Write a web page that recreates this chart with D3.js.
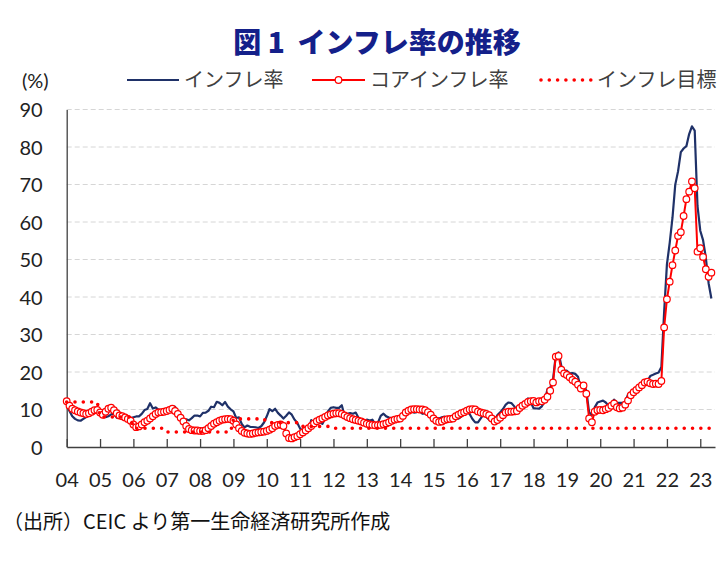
<!DOCTYPE html>
<html>
<head>
<meta charset="utf-8">
<script src="https://cdn.jsdelivr.net/npm/d3@7"></script>
<style>
  body { margin: 0; background: #fff; }
  text { font-family: "Noto Sans CJK JP", sans-serif; }
  .num { font-family: Lato, "Open Sans", sans-serif; }
</style>
</head>
<body>
<div class="canvas"></div>
<script>
// year labels on the x axis (first month of each year)
const yearLabels = ['04','05','06','07','08','09','10','11','12','13',
  '14','15','16','17','18','19','20','21','22','23'];
const yTicks = [0, 10, 20, 30, 40, 50, 60, 70, 80, 90];

// monthly y/y inflation, Jan 2004 - May 2023 (%)
const headline = [
  11.4, 9.6, 8.2, 7.5, 7.1, 7.0, 7.5, 8.0, 8.5, 9.0, 9.3, 9.3,
  9.24, 8.69, 7.94, 8.18, 8.70, 8.95, 7.82, 7.91, 7.99, 7.52, 7.61, 7.72,
  7.93, 8.15, 8.16, 8.83, 9.86, 10.12, 11.69, 10.26, 10.55, 9.98, 9.86, 9.65,
  9.93, 10.16, 10.86, 10.72, 9.23, 8.60, 6.90, 7.39, 7.12, 7.70, 8.40, 8.39,
  8.17, 9.10, 9.15, 9.66, 10.74, 10.61, 12.06, 11.77, 11.13, 11.99, 10.76, 10.06,
  9.50, 7.73, 7.89, 6.13, 5.24, 5.73, 5.39, 5.33, 5.27, 5.08, 5.53, 6.53,
  8.19, 10.13, 9.56, 10.19, 9.10, 8.37, 7.58, 8.33, 9.24, 8.62, 7.29, 6.40,
  4.90, 4.16, 3.99, 4.26, 7.17, 6.24, 6.31, 6.65, 6.15, 7.66, 9.48, 10.45,
  10.61, 10.43, 10.43, 11.14, 8.28, 8.87, 9.07, 8.88, 9.19, 7.80, 6.37, 6.16,
  7.31, 7.03, 7.29, 6.13, 6.51, 8.30, 8.88, 8.17, 7.88, 7.71, 7.32, 7.40,
  7.75, 7.89, 8.39, 9.38, 9.66, 9.16, 9.32, 9.54, 8.86, 8.96, 9.15, 8.17,
  7.24, 7.55, 7.61, 7.91, 8.09, 7.20, 6.81, 7.14, 7.95, 7.58, 8.10, 8.81,
  9.58, 8.78, 7.46, 6.57, 6.58, 7.64, 8.79, 8.05, 7.28, 7.16, 7.00, 8.53,
  9.22, 10.13, 11.29, 11.87, 11.72, 10.90, 9.79, 10.68, 11.20, 11.90, 12.98, 11.92,
  10.35, 10.26, 10.23, 10.85, 12.15, 15.39, 15.85, 17.90, 24.52, 25.24, 21.62, 20.30,
  20.35, 19.67, 19.71, 19.50, 18.71, 15.72, 16.65, 15.01, 9.26, 8.55, 10.56, 11.84,
  12.15, 12.37, 11.86, 10.94, 11.39, 12.62, 11.76, 11.77, 11.75, 11.89, 14.03, 14.60,
  14.97, 15.61, 16.19, 17.14, 16.59, 17.53, 18.95, 19.25, 19.58, 19.89, 21.31, 36.08,
  48.69, 54.44, 61.14, 69.97, 73.50, 78.62, 79.60, 80.21, 83.45, 85.51, 84.39, 64.27,
  57.68, 55.18, 50.51, 43.68, 39.59
];

const core = [
  12.2, 11.0, 10.2, 9.8, 9.5, 9.2, 9.0, 8.8, 9.0, 9.4, 9.8, 9.9,
  9.2, 8.6, 9.4, 10.2, 10.5, 9.8, 9.0, 8.4, 8.2, 7.9, 7.5, 7.0,
  6.0, 5.3, 5.5, 6.0, 6.6, 7.0, 7.6, 8.2, 8.8, 9.2, 9.3, 9.4,
  9.6, 9.9, 10.2, 9.6, 8.8, 7.8, 6.8, 5.6, 4.8, 4.5, 4.4, 4.4,
  4.3, 4.3, 4.5, 5.0, 5.6, 6.2, 6.6, 7.0, 7.3, 7.4, 7.5, 7.4,
  7.0, 6.0, 5.0, 4.3, 3.8, 3.6, 3.5, 3.6, 3.8, 3.9, 4.0, 4.1,
  4.3, 4.6, 5.0, 5.6, 5.9, 6.0, 5.6, 3.6, 2.4, 2.3, 2.6, 2.9,
  3.4, 3.9, 4.4, 5.0, 5.6, 6.3, 6.9, 7.3, 7.6, 8.0, 8.4, 8.7,
  8.9, 9.0, 9.0, 8.8, 8.4, 8.0, 7.7, 7.4, 7.2, 7.0, 6.8, 6.5,
  6.2, 6.0, 5.9, 5.8, 5.8, 5.9, 6.1, 6.3, 6.6, 7.0, 7.3, 7.5,
  7.6, 8.3, 9.2, 9.7, 10.0, 10.1, 10.1, 10.0, 10.0, 9.8, 9.3, 8.6,
  7.6, 7.0, 6.7, 6.8, 7.2, 7.4, 7.5, 7.6, 8.2, 8.6, 9.0, 9.3,
  9.7, 10.0, 10.1, 10.0, 9.5, 9.2, 9.0, 8.8, 8.5, 7.6, 6.8, 7.2,
  7.8, 8.5, 9.2, 9.4, 9.4, 9.5, 9.6, 10.4, 11.0, 11.5, 12.0, 12.2,
  12.3, 11.9, 12.2, 12.2, 12.6, 13.4, 15.0, 17.2, 24.1, 24.3, 20.6, 19.6,
  19.2, 18.6, 17.9, 17.4, 16.6, 15.6, 16.4, 14.2, 7.6, 6.6, 9.4, 9.8,
  9.9, 9.8, 10.1, 10.4, 11.0, 11.6, 10.6, 10.3, 10.5, 11.3, 12.4, 13.8,
  14.6, 15.2, 15.9, 16.5, 17.2, 17.4, 17.0, 16.8, 16.9, 16.8, 17.6, 31.9,
  39.4, 44.1, 48.5, 52.4, 56.3, 57.3, 61.6, 66.1, 68.1, 70.8, 69.0, 52.1,
  53.0, 50.7, 47.4, 45.4, 46.5
];

// inflation target by year, 2004 - 2023
const targetByYear = [12, 8, 5, 4, 4, 7.5, 6.5, 5.5, 5, 5, 5, 5, 5, 5, 5, 5, 5, 5, 5, 5];
const target = headline.map((d, i) => targetByYear[Math.floor(i / 12)]);

const svg = d3.select('.canvas')
  .append('svg')
  .attr('width', 725)
  .attr('height', 568);

// plot area
const plot = { left: 66.7, right: 715, top: 109.5, bottom: 447 };

const x = d3.scaleLinear()
  .domain([0, 233.3])
  .range([plot.left, plot.right]);

const y = d3.scaleLinear()
  .domain([0, 90])
  .range([plot.bottom, plot.top]);

// title
svg.append('text')
  .attr('x', 377)
  .attr('y', 53)
  .attr('text-anchor', 'middle')
  .attr('font-size', 28)
  .attr('font-weight', 900)
  .attr('fill', '#14208a')
  .text('図 1\u00a0\u00a0インフレ率の推移');

// gridlines
svg.append('g')
  .selectAll('line')
  .data(yTicks.filter(d => d > 0))
  .enter()
  .append('line')
  .attr('x1', plot.left)
  .attr('x2', plot.right)
  .attr('y1', d => y(d))
  .attr('y2', d => y(d))
  .attr('stroke', '#d6d6d6')
  .attr('stroke-width', 1)
  .attr('stroke-dasharray', '5,3');

// axes
const xAxis = d3.axisBottom(x)
  .tickValues(d3.range(0, 229, 12))
  .tickFormat(d => yearLabels[d / 12])
  .tickSizeInner(-8)
  .tickSizeOuter(0)
  .tickPadding(26);

const yAxis = d3.axisLeft(y)
  .tickValues(yTicks)
  .tickSize(0)
  .tickPadding(24);

const xAxisGroup = svg.append('g')
  .attr('transform', `translate(0, ${plot.bottom})`)
  .call(xAxis);

const yAxisGroup = svg.append('g')
  .attr('transform', `translate(${plot.left}, 0)`)
  .call(yAxis);

[xAxisGroup, yAxisGroup].forEach(g => {
  g.select('.domain').attr('stroke', '#404040').attr('stroke-width', 1.3);
  g.selectAll('.tick line').attr('stroke', '#404040').attr('stroke-width', 1.3);
  g.selectAll('text')
    .attr('class', 'num')
    .attr('font-size', 20)
    .attr('fill', '#222');
});
yAxisGroup.selectAll('text').attr('dy', '0.36em');

// series
const line = d3.line()
  .x((d, i) => x(i))
  .y(d => y(d));

svg.append('path')
  .datum(headline)
  .attr('fill', 'none')
  .attr('stroke', '#1f3168')
  .attr('stroke-width', 2.2)
  .attr('stroke-linejoin', 'round')
  .attr('d', line);

svg.append('path')
  .datum(core)
  .attr('fill', 'none')
  .attr('stroke', '#ff0000')
  .attr('stroke-width', 2)
  .attr('stroke-linejoin', 'round')
  .attr('d', line);

svg.append('g')
  .selectAll('circle')
  .data(core)
  .enter()
  .append('circle')
  .attr('cx', (d, i) => x(i))
  .attr('cy', d => y(d))
  .attr('r', 3.3)
  .attr('fill', '#fff')
  .attr('stroke', '#ff0000')
  .attr('stroke-width', 1.2);

svg.append('path')
  .datum(target)
  .attr('fill', 'none')
  .attr('stroke', '#ff0000')
  .attr('stroke-width', 3.6)
  .attr('stroke-linecap', 'round')
  .attr('stroke-dasharray', '0,8.3')
  .attr('d', line);

// legend
svg.append('text')
  .attr('x', 22)
  .attr('y', 88)
  .attr('font-size', 20)
  .attr('fill', '#222')
  .attr('class', 'num')
  .text('(%)');

const legend = svg.append('g').attr('font-size', 20).attr('fill', '#404040');
const legendY = 80;

legend.append('line')
  .attr('x1', 127).attr('x2', 179).attr('y1', legendY).attr('y2', legendY)
  .attr('stroke', '#1f3168').attr('stroke-width', 2.2);
legend.append('text').attr('x', 184).attr('y', legendY + 7).text('インフレ率');

legend.append('line')
  .attr('x1', 312).attr('x2', 365).attr('y1', legendY).attr('y2', legendY)
  .attr('stroke', '#ff0000').attr('stroke-width', 2);
legend.append('circle')
  .attr('cx', 338.5).attr('cy', legendY).attr('r', 3.3)
  .attr('fill', '#fff').attr('stroke', '#ff0000').attr('stroke-width', 1.2);
legend.append('text').attr('x', 370).attr('y', legendY + 7).text('コアインフレ率');

legend.append('line')
  .attr('x1', 541).attr('x2', 592).attr('y1', legendY).attr('y2', legendY)
  .attr('stroke', '#ff0000').attr('stroke-width', 3.6)
  .attr('stroke-linecap', 'round').attr('stroke-dasharray', '0,8.3');
legend.append('text').attr('x', 597).attr('y', legendY + 7).text('インフレ目標');

// source note
svg.append('text')
  .attr('x', 3)
  .attr('y', 529)
  .attr('font-size', 20)
  .attr('fill', '#111')
  .text('（出所）CEIC より第一生命経済研究所作成');
</script>
</body>
</html>
